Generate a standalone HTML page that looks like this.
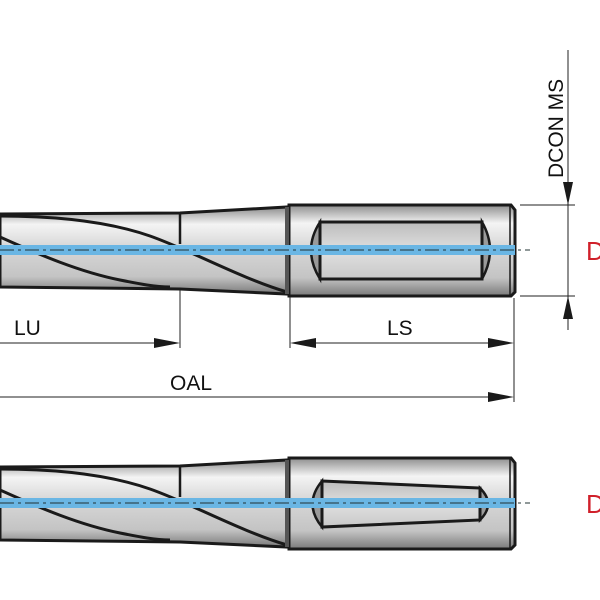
<!DOCTYPE html>
<html><head><meta charset="utf-8"><style>html,body{margin:0;padding:0;background:#fff}svg{display:block}</style></head>
<body>
<svg width="600" height="600" viewBox="0 0 600 600" xmlns="http://www.w3.org/2000/svg">
<defs>
<linearGradient id="g" x1="0" y1="0" x2="0" y2="1">
<stop offset="0" stop-color="#8e8e8e"/><stop offset="0.2" stop-color="#f4f4f4"/><stop offset="0.45" stop-color="#d8d8d8"/><stop offset="0.8" stop-color="#c4c4c4"/><stop offset="1" stop-color="#7a7a7a"/>
</linearGradient>
<linearGradient id="f" x1="0" y1="0" x2="0" y2="1">
<stop offset="0" stop-color="#bcbcbc"/><stop offset="0.5" stop-color="#e0e0e0"/><stop offset="1" stop-color="#c8c8c8"/>
</linearGradient>
<g id="tool">
 <path d="M0,214 L180,213 L287,207 L287,294 L180,289 L0,287 Z" fill="url(#g)" stroke="#1a1a1a" stroke-width="3"/>
 <line x1="180" y1="213" x2="180" y2="244" stroke="#1a1a1a" stroke-width="2.5"/>
 <path d="M0,216 C60,216 110,222 150,236 C190,250 240,278 287,292" fill="none" stroke="#1a1a1a" stroke-width="3"/>
 <path d="M0,237 C40,255 80,272 120,280 C140,284 155,287 170,287" fill="none" stroke="#1a1a1a" stroke-width="3"/>
 <path d="M289,205 L511,205 L515,210 L515,292 L511,296 L289,296 Z" fill="url(#g)" stroke="#1a1a1a" stroke-width="3"/>
 <line x1="510" y1="206" x2="510" y2="295" stroke="#1a1a1a" stroke-width="1.5"/>
 <rect x="285" y="207" width="4" height="87" fill="#555"/>
</g>
</defs>

<use href="#tool"/>
<path d="M320,222 L320,279 Q302,250 320,222 Z" fill="#9a9a9a" stroke="#1a1a1a" stroke-width="2.5"/>
<path d="M482,222 L482,279 Q498,250 482,222 Z" fill="#9a9a9a" stroke="#1a1a1a" stroke-width="2.5"/>
<rect x="320" y="222" width="162" height="57" fill="url(#f)" stroke="#1a1a1a" stroke-width="3"/>
<rect x="0" y="245" width="515" height="10" fill="#6ab6e4"/>
<line x1="0" y1="250" x2="530" y2="250" stroke="#233" stroke-width="1" stroke-dasharray="14,4,3,4"/>

<g transform="translate(0,253)"><use href="#tool"/></g>
<path d="M322,481 L322,527 Q303,504 322,481 Z" fill="#9a9a9a" stroke="#1a1a1a" stroke-width="2.5"/>
<path d="M480,488 L480,520 Q496,504 480,488 Z" fill="#9a9a9a" stroke="#1a1a1a" stroke-width="2.5"/>
<path d="M322,481 L480,488 L480,520 L322,527 Z" fill="url(#f)" stroke="#1a1a1a" stroke-width="3"/>
<rect x="0" y="498" width="515" height="10" fill="#6ab6e4"/>
<line x1="0" y1="503" x2="530" y2="503" stroke="#233" stroke-width="1" stroke-dasharray="14,4,3,4"/>

<g stroke="#222" stroke-width="1">
 <line x1="180" y1="290" x2="180" y2="348"/>
 <line x1="290" y1="297" x2="290" y2="348"/>
 <line x1="514" y1="298" x2="514" y2="402"/>
 <line x1="0" y1="343" x2="175" y2="343"/>
 <line x1="295" y1="343" x2="510" y2="343"/>
 <line x1="0" y1="397" x2="510" y2="397"/>
 <line x1="520" y1="205" x2="575" y2="205"/>
 <line x1="520" y1="296" x2="575" y2="296"/>
 <line x1="568" y1="50" x2="568" y2="330"/>
</g>
<g fill="#1a1a1a">
 <path d="M180,343 L154,338 L154,348 Z"/>
 <path d="M290,343 L316,338 L316,348 Z"/>
 <path d="M514,343 L488,338 L488,348 Z"/>
 <path d="M514,397 L488,392 L488,402 Z"/>
 <path d="M568,205 L563,182 L573,182 Z"/>
 <path d="M568,296 L563,319 L573,319 Z"/>
</g>
<g font-family="Liberation Sans, sans-serif" font-size="21" fill="#111">
 <text x="14" y="335">LU</text>
 <text x="387" y="335">LS</text>
 <text x="170" y="390">OAL</text>
 <text transform="translate(563,178) rotate(-90)">DCON MS</text>
</g>
<g font-family="Liberation Sans, sans-serif" font-size="26" fill="#d0202a">
 <text x="586" y="260">D</text>
 <text x="586" y="513">D</text>
</g>
</svg>
</body></html>
